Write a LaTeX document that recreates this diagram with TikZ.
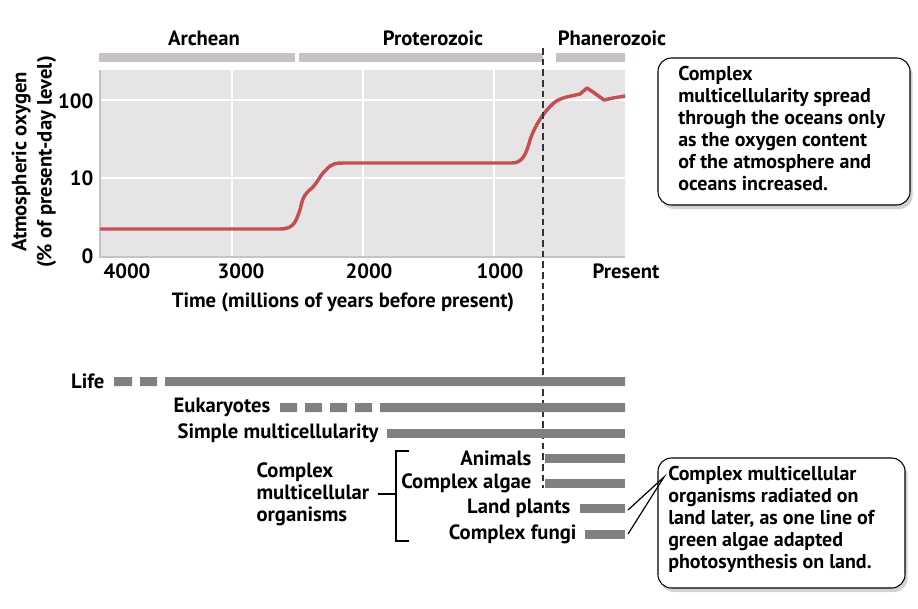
\documentclass[tikz,border=0pt]{standalone}
\usepackage{fontspec}
\setmainfont{PT Sans}
\usetikzlibrary{shadows}
\definecolor{plotbg}{RGB}{230,228,228}
\definecolor{erabar}{RGB}{200,194,194}
\definecolor{curve}{RGB}{196,78,82}
\definecolor{lifebar}{RGB}{128,128,130}
\tikzset{
 lbl/.style={font=\bfseries\fontsize{15.5}{17}\selectfont, inner sep=1pt},
 bar/.style={fill=lifebar, draw=none},
 callout/.style={draw=black, line width=0.8pt, rounded corners=10pt, fill=white, drop shadow={shadow xshift=2pt,shadow yshift=-3pt,opacity=0.35}},
 ctext/.style={font=\bfseries\fontsize{15}{16.5}\selectfont, align=left, anchor=north west, inner sep=0pt}
}
\begin{document}
\begin{tikzpicture}[x=0.75pt,y=-0.75pt]
\useasboundingbox (0,0) rectangle (918,608);
% plot
\fill[plotbg] (100,70) rectangle (625,257);
\foreach \x in {232,363,494} \draw[white,line width=1.2pt] (\x,70) -- (\x,257);
\foreach \y in {100,178} \draw[white,line width=1.2pt] (100,\y) -- (625,\y);
\draw[erabar!80!black!60, line width=1pt] (100,70) -- (100,257) -- (625,257);
% eras
\fill[erabar] (99,53) rectangle (295,62);
\fill[erabar] (299,53) rectangle (543,62);
\fill[erabar] (556,53) rectangle (625,62);
\node[lbl] (arch) at (204,38) {Archean};
\node[lbl] (prot) at (433,38) {Proterozoic};
\node[lbl] (phan) at (612,38) {Phanerozoic};
% curve
\draw[curve, line width=2.6pt, line join=round]
 (100,229) -- (280,229) .. controls (295,229) and (296,220) .. (300,210)
 .. controls (303,195) and (306,193) .. (312,188)
 .. controls (318,182) and (320,175) .. (326,170)
 .. controls (332,163) and (336,163) .. (345,163)
 -- (512,163) .. controls (522,163) and (526,155) .. (530,140)
 .. controls (535,125) and (545,110) .. (555,102)
 .. controls (562,97) and (572,96) .. (580,94)
 -- (587,88) -- (593,92) -- (604,100) -- (613,98) -- (625,96);
% y labels
\node[lbl, anchor=east] (t100) at (95,101) {100};
\node[lbl, anchor=east] (t10) at (95,178) {10};
\node[lbl, anchor=east] (t0) at (95,256) {0};
\node[lbl, rotate=90, align=center, font=\bfseries\fontsize{15.5}{19}\selectfont] (ylab) at (34,162) {Atmospheric oxygen\\(\% of present-day level)};
% x labels
\node[lbl] (x4) at (127,271) {4000};
\node[lbl] (x3) at (241,271) {3000};
\node[lbl] (x2) at (369,271) {2000};
\node[lbl] (x1) at (500,271) {1000};
\node[lbl] (x0) at (626,271) {Present};
\node[lbl] (xlab) at (343,302) {Time (millions of years before present)};
% dashed line
\coordinate (dtop) at (543,48);
\coordinate (dbot) at (543,488);
\draw[black!80, line width=1pt, dash pattern=on 5pt off 3pt] (dtop) -- (dbot);
% bars
\node[lbl, anchor=east] (life) at (106,381) {Life};
\fill[bar] (114,377) rectangle (132,386) (140,377) rectangle (157,386) (165,377) rectangle (625,386);
\node[lbl, anchor=east] (euk) at (272,407) {Eukaryotes};
\fill[bar] (280,403) rectangle (297,412) (305,403) rectangle (322,412) (330,403) rectangle (347,412) (355,403) rectangle (372,412) (380,403) rectangle (625,412);
\node[lbl, anchor=east] (simp) at (380,433) {Simple multicellularity};
\fill[bar] (387,429) rectangle (625,438);
\node[lbl, anchor=east] (anim) at (533,458) {Animals};
\fill[bar] (545,454) rectangle (625,463);
\node[lbl, anchor=east] (alg) at (533,483) {Complex algae};
\fill[bar] (545,479) rectangle (625,488);
\node[lbl, anchor=east] (plants) at (572,508) {Land plants};
\fill[bar] (580,504) rectangle (625,513);
\coordinate (pend) at (628,510);
\node[lbl, anchor=east] (fungi) at (578,534) {Complex fungi};
\fill[bar] (585,530) rectangle (625,539);
\coordinate (fend) at (628,534);
% bracket
\draw[line width=1pt] (409,451) -- (396,451) -- (396,541) -- (409,541);
\coordinate (bmid) at (396,494);
\node[lbl, align=left, anchor=west, font=\bfseries\fontsize{15.5}{16.5}\selectfont] (cmo) at (255,494) {Complex\\multicellular\\organisms};
\draw[line width=1pt] (378,494) -- (bmid);
% callouts
\draw[callout] (658,58) rectangle (910,205);
\node[ctext] (c1) at (678,66) {Complex\\multicellularity spread\\through the oceans only\\as the oxygen content\\of the atmosphere and\\oceans increased.};
\draw[callout] (658,458) rectangle (905,588);
\coordinate (cp) at (664,477);
\node[ctext] (c2) at (668,466) {Complex multicellular\\organisms radiated on\\land later, as one line of\\green algae adapted\\photosynthesis on land.};
\draw[line width=0.9pt] (pend) -- (cp) -- (fend);
\end{tikzpicture}
\end{document}
